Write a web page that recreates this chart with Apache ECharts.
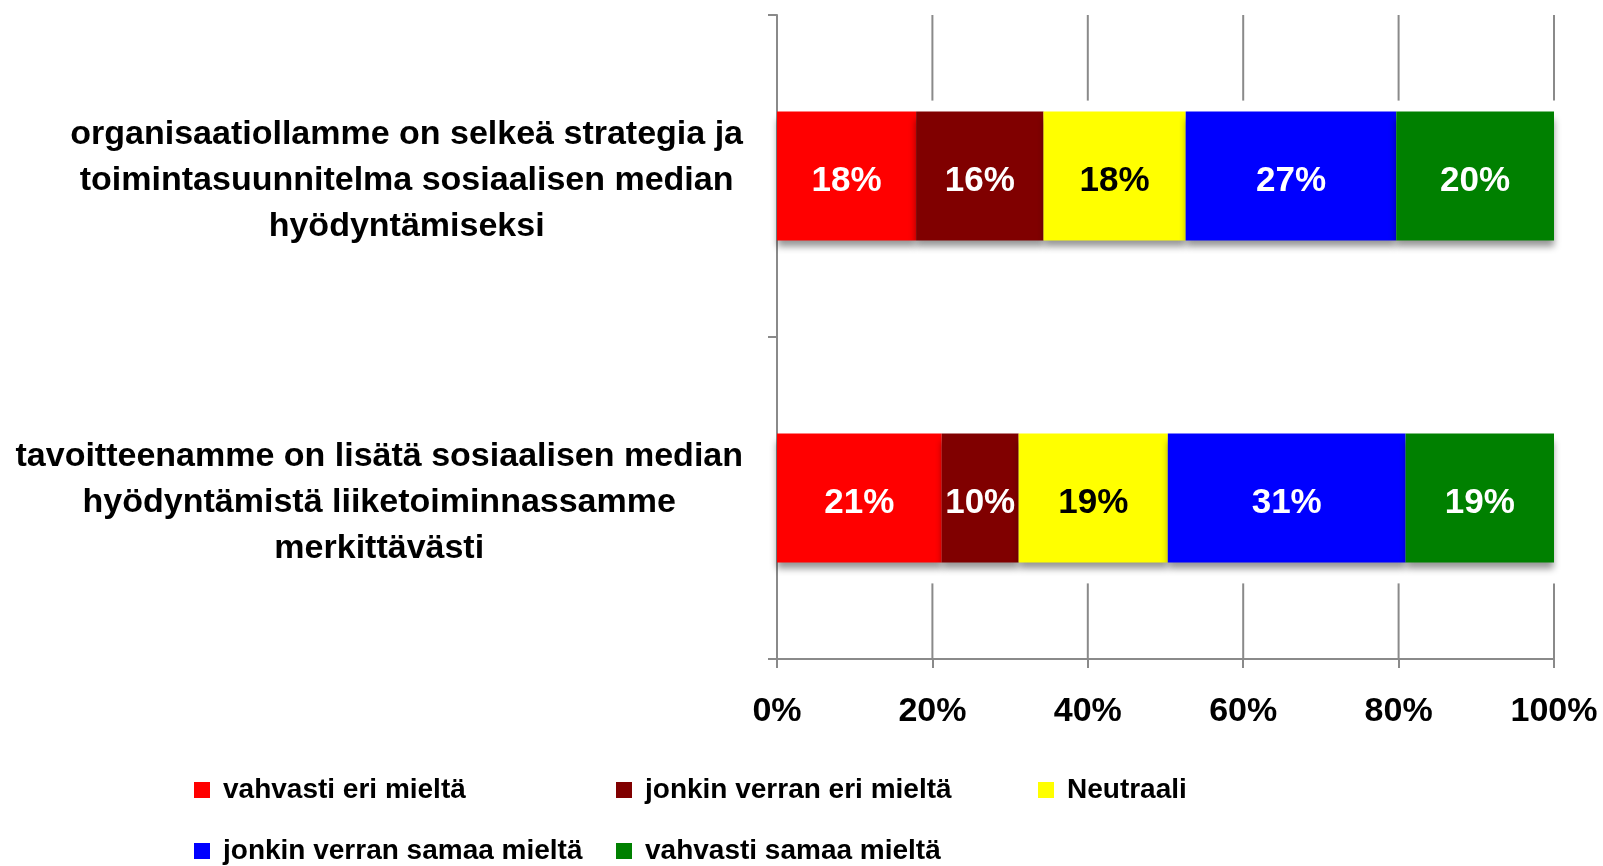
<!DOCTYPE html>
<html>
<head>
<meta charset="utf-8">
<script src="https://cdn.jsdelivr.net/npm/echarts@6/dist/echarts.min.js"></script>
<style>
  html, body { margin: 0; padding: 0; background: #ffffff; }
  #chart { width: 1603px; height: 866px; }
</style>
</head>
<body>
<div id="chart"></div>
<script>
// Survey statements (top to bottom)
const categories = [
  'organisaatiollamme on selkeä strategia ja\ntoimintasuunnitelma sosiaalisen median\nhyödyntämiseksi',
  'tavoitteenamme on lisätä sosiaalisen median\nhyödyntämistä liiketoiminnassamme\nmerkittävästi'
];

// Answer options, in stacking order
const seriesNames = [
  'vahvasti eri mieltä',
  'jonkin verran eri mieltä',
  'Neutraali',
  'jonkin verran samaa mieltä',
  'vahvasti samaa mieltä'
];

// Share of respondents (%) per statement
const stronglyDisagree = [17.9, 21.2];
const somewhatDisagree = [16.4, 9.9];
const neutral          = [18.3, 19.2];
const somewhatAgree    = [27.1, 30.6];
const stronglyAgree    = [20.3, 19.1];

// Percentage axis ticks
const xTicks = [0, 20, 40, 60, 80, 100];

const seriesValues = [stronglyDisagree, somewhatDisagree, neutral, somewhatAgree, stronglyAgree];
const seriesColors = ['#ff0000', '#800000', '#ffff00', '#0000ff', '#008000'];
const labelColors  = ['#ffffff', '#ffffff', '#000000', '#ffffff', '#ffffff'];

const FONT = '"Liberation Sans", Arial, Helvetica, sans-serif';
const GRID_GRAY = '#8a8a8a';

const chart = echarts.init(document.getElementById('chart'), null, { renderer: 'canvas' });

const barSeries = seriesNames.map((name, i) => ({
  name: name,
  type: 'bar',
  stack: 'total',
  barWidth: '40%',
  z: 3,
  data: seriesValues[i],
  itemStyle: {
    color: seriesColors[i],
    shadowColor: 'rgba(0,0,0,0.42)',
    shadowBlur: 7,
    shadowOffsetY: 7
  },
  label: {
    show: true,
    position: 'inside',
    offset: [0, 5],
    formatter: p => Math.round(p.value) + '%',
    color: labelColors[i],
    fontFamily: FONT,
    fontWeight: 'bold',
    fontSize: 35
  },
  emphasis: { disabled: true }
}));

// Vertical reference lines above the first bar and below the last bar
const gridSeries = {
  type: 'custom',
  name: 'gridlines',
  silent: true,
  z: 1,
  clip: false,
  encode: { x: 0, y: 1 },
  data: xTicks.filter(v => v > 0).map(v => [v, 0]),
  renderItem: function (params, api) {
    const cs = params.coordSys;
    const v = api.value(0);
    const first = api.coord([v, 0]);
    const last = api.coord([v, categories.length - 1]);
    const half = api.size([0, 1])[1] * 0.2;
    const style = { stroke: GRID_GRAY, lineWidth: 2 };
    return {
      type: 'group',
      children: [
        { type: 'line', shape: { x1: first[0], y1: cs.y, x2: first[0], y2: first[1] - half - 11 }, style: style },
        { type: 'line', shape: { x1: last[0], y1: last[1] + half + 21, x2: last[0], y2: cs.y + cs.height }, style: style }
      ]
    };
  }
};

// One legend entry per slot: three on the first row, two on the second
const legendSlots = [
  { left: 194, top: 776 },
  { left: 616, top: 776 },
  { left: 1038, top: 776 },
  { left: 194, top: 837 },
  { left: 616, top: 837 }
];
const legends = seriesNames.map((name, i) => ({
  left: legendSlots[i].left,
  top: legendSlots[i].top,
  padding: 0,
  orient: 'horizontal',
  icon: 'rect',
  itemWidth: 16,
  itemHeight: 16,
  itemGap: 0,
  selectedMode: false,
  data: [name],
  textStyle: {
    fontFamily: FONT,
    fontWeight: 'bold',
    fontSize: 28,
    color: '#000000',
    padding: [0, 0, 0, 8]
  }
}));

const option = {
  backgroundColor: '#ffffff',
  animation: false,
  grid: { left: 777, right: 49, top: 15, bottom: 207, containLabel: false, outerBoundsMode: 'none' },
  legend: legends,
  xAxis: {
    type: 'value',
    min: xTicks[0],
    max: xTicks[xTicks.length - 1],
    interval: 20,
    splitLine: { show: false },
    axisLine: { show: true, lineStyle: { color: GRID_GRAY, width: 2 } },
    axisTick: { show: true, length: 9, lineStyle: { color: GRID_GRAY, width: 2 } },
    axisLabel: {
      formatter: '{value}%',
      margin: 36,
      color: '#000000',
      fontFamily: FONT,
      fontWeight: 'bold',
      fontSize: 34
    }
  },
  yAxis: {
    type: 'category',
    inverse: true,
    data: categories,
    axisLine: { show: true, lineStyle: { color: GRID_GRAY, width: 2 } },
    axisTick: { show: true, length: 9, lineStyle: { color: GRID_GRAY, width: 2 } },
    splitLine: { show: false },
    axisLabel: {
      align: 'right',
      margin: 34,
      padding: [9, 0, 0, 0],
      formatter: v => v.split('\n').map(line => '{t|' + line + '}').join('\n'),
      rich: {
        t: {
          align: 'center',
          color: '#000000',
          fontFamily: FONT,
          fontWeight: 'bold',
          fontSize: 34,
          lineHeight: 46
        }
      }
    }
  },
  series: barSeries.concat([gridSeries])
};

chart.setOption(option);
</script>
</body>
</html>
